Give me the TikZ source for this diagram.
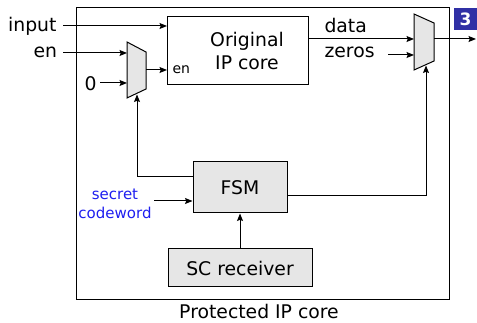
\documentclass[tikz,border=0pt]{standalone}
\usepackage{fontspec}
\setmainfont{DejaVu Sans}
\usetikzlibrary{arrows.meta}
\definecolor{boxgray}{RGB}{230,230,230}
\definecolor{badgeblue}{RGB}{48,48,165}
\definecolor{codeblue}{RGB}{30,30,240}
\newcommand\mainfnt{\fontsize{18.8}{22}\selectfont}
\newcommand\smallfnt{\fontsize{14}{17}\selectfont}
\newcommand\codefnt{\fontsize{15}{18}\selectfont}
\begin{document}
\begin{tikzpicture}[x=1pt,y=-1pt,line width=1pt,
  every node/.style={font=\mainfnt, inner sep=0pt},
  arr/.style={-{Stealth[length=7.5pt,width=6pt,inset=1.2pt]}},
  blockbox/.style={draw, rectangle, inner sep=0pt},
  graybox/.style={blockbox, fill=boxgray},
  muxshape/.style={draw, fill=boxgray, line join=miter},
  lbl/.style={anchor=base}]
\useasboundingbox (0,0) rectangle (477,323);

% outer protected core
\node[blockbox, minimum width=373pt, minimum height=292pt, anchor=north west] (outer) at (76,7) {};
\node[lbl] (prot) at (259,318.5) {Protected IP core};

% original IP core
\node[blockbox, minimum width=141pt, minimum height=68pt, anchor=north west] (ip) at (167,16) {};
\node[lbl] (orig1) at (247,47) {Original};
\node[lbl] (orig2) at (247,70) {IP core};
\node[anchor=base west, font=\smallfnt] (ipen) at (172,74) {en};

% FSM and SC receiver
\node[graybox, minimum width=94pt, minimum height=51pt] (fsm) at (240,187.5) {FSM};
\node[graybox, minimum width=144pt, minimum height=38pt] (sc) at (240,268) {SC receiver};

% mux 1
\coordinate (m1a) at (127,42);
\coordinate (m1b) at (146,52);
\coordinate (m1c) at (146,89);
\coordinate (m1d) at (127,98);
\draw[muxshape] (m1a) -- (m1b) -- (m1c) -- (m1d) -- cycle;
% mux 2
\coordinate (m2a) at (414,14);
\coordinate (m2b) at (434,23);
\coordinate (m2c) at (434,61);
\coordinate (m2d) at (414,70);
\draw[muxshape] (m2a) -- (m2b) -- (m2c) -- (m2d) -- cycle;

% input labels
\node[anchor=base east] (input) at (57,32) {input};
\node[anchor=base east] (en) at (57.5,58) {en};
\node[anchor=base east] (zero) at (97,90.5) {0};
\node[anchor=base west] (data) at (324,33) {data};
\node[anchor=base west] (zeros) at (324,58) {zeros};
\node[lbl, font=\codefnt, text=codeblue] (sec1) at (115,200) {secret};
\node[lbl, font=\codefnt, text=codeblue] (sec2) at (115,219) {codeword};

% badge
\node[fill=badgeblue, text=white, font=\fontsize{17}{20}\selectfont\bfseries,
      minimum width=23pt, minimum height=22pt] (badge) at (465.5,19) {3};

% connectors
\coordinate (inS) at (63,26);
\draw[arr] (inS) -- (inS -| ip.west);
\coordinate (enS) at (63,53);
\draw[arr] (enS) -- (enS -| m1a);
\coordinate (zS) at (100,83);
\draw[arr] (zS) -- (zS -| m1a);
\coordinate (m1out) at (146,70);
\draw[arr] (m1out) -- (m1out -| ip.west);

\coordinate (m2in1) at (414,39);
\coordinate (m2in2) at (414,55);
\draw[arr] (ip.east |- m2in1) -- (m2in1);
\coordinate (zeS) at (388,55);
\draw[arr] (zeS) -- (m2in2);
\coordinate (m2out) at (434,39);
\coordinate (outE) at (476,39);
\draw[arr] (m2out) -- (outE);

\coordinate (m1sel) at (137,94.5);
\coordinate (selrow1) at (0,177);
\draw[arr] (fsm.west |- selrow1) -| (m1sel);
\coordinate (m2sel) at (426,65.5);
\coordinate (selrow2) at (0,196);
\draw[arr] (fsm.east |- selrow2) -| (m2sel);

\draw[arr] (sc.north) -- (fsm.south);
\coordinate (cwS) at (154,201);
\draw[arr] (cwS) -- (cwS -| fsm.west);
\end{tikzpicture}
\end{document}
